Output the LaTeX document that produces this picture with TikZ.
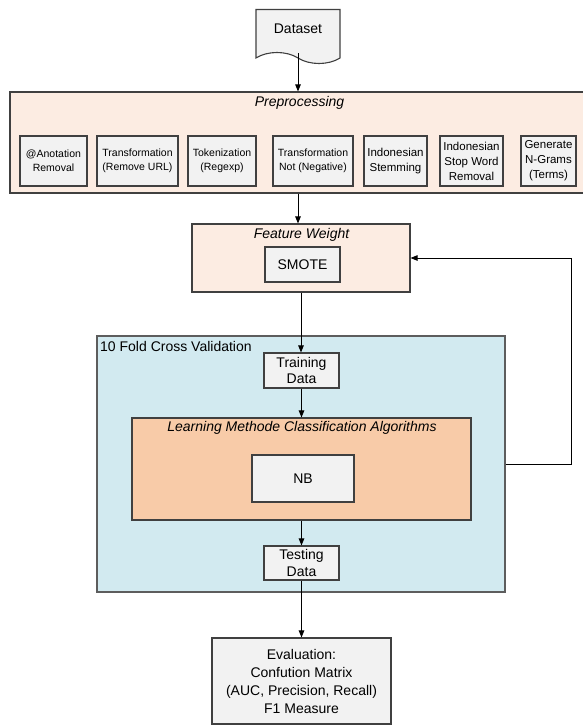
\documentclass[tikz,border=0pt]{standalone}
\usepackage{fontspec}
\setmainfont{Liberation Sans}
\usepackage{xcolor}
\definecolor{Col1}{RGB}{252,236,226}
\definecolor{Col2}{RGB}{210,234,240}
\definecolor{Col3}{RGB}{248,203,168}
\definecolor{Col4}{RGB}{242,242,242}
\definecolor{Col5}{RGB}{64,64,64}
\usepackage{tikz}
\usetikzlibrary{shapes.symbols}
\usetikzlibrary{arrows.meta}
\tikzstyle{Box}=[rectangle,draw=Col5,fill=Col4,line width=1.1pt,
inner sep=0pt,align=center]
\tikzstyle{Step}=[Box,font=\fontsize{10.5}{14}\selectfont,minimum height=50pt]
\tikzstyle{StepL}=[Box,font=\fontsize{11.5}{15}\selectfont,minimum height=50pt]
\tikzstyle{Data}=[Box,font=\fontsize{14}{16.5}\selectfont]
\tikzstyle{Group}=[rectangle,draw=Col5,line width=1.1pt,inner sep=0pt]
\tikzstyle{Title}=[font=\fontsize{14}{16}\selectfont\itshape,inner sep=0pt]
\tikzstyle{Edge}=[draw=black,line width=0.9pt,-{Triangle[length=7pt,width=5.5pt]}]

\begin{document}
\begin{tikzpicture}[x=1pt,y=-1pt]
        \useasboundingbox(0,0)rectangle(582,725);
        \node[Data,tape,tape bend top=none,tape bend bottom=out and in,
            tape bend height=11pt,minimum width=84pt,minimum height=54pt]
            (data)at(298,31){\raisebox{4pt}{Dataset}};
        % preprocessing
        \node[Group,fill=Col1,minimum width=576pt,minimum height=101pt]
            (prep)at(298,142.5){};
        \node[Title](preptitle)at(299.5,103){Preprocessing};
        \node[Step,minimum width=67pt](p1)at(53.5,161){@Anotation\\Removal};
        \node[Step,minimum width=81pt](p2)at(137.5,161)
            {Transformation\\(Remove URL)};
        \node[Step,minimum width=68pt](p3)at(222,161){Tokenization\\(Regexp)};
        \node[Step,minimum width=80pt](p4)at(313,161)
            {Transformation\\Not (Negative)};
        \node[StepL,minimum width=63pt](p5)at(395.5,161){Indonesian\\Stemming};
        \node[StepL,minimum width=63pt](p6)at(471.5,161)
            {Indonesian\\Stop Word\\Removal};
        \node[StepL,minimum width=55pt](p7)at(548.5,161)
            {Generate\\N-Grams\\(Terms)};
        % feature weight
        \node[Group,fill=Col1,minimum width=218pt,minimum height=68pt]
            (fw)at(301,258){};
        \node[Title](fwtitle)at(301.5,235){Feature Weight};
        \node[Data,minimum width=75pt,minimum height=35pt](smote)
            at(302.5,264.5){SMOTE};
        % cross validation
        \node[Group,fill=Col2,draw=Col5!85,minimum width=408pt,
            minimum height=256pt](cv)at(301,464){};
        \node[font=\fontsize{14}{16}\selectfont,inner sep=0pt,anchor=west]
            (cvtitle)at(100,346){10 Fold Cross Validation};
        \node[Data,minimum width=75pt,minimum height=35pt](train)
            at(301.5,370.5){Training\\Data};
        \node[Group,fill=Col3,minimum width=339pt,minimum height=102pt]
            (learn)at(301.5,469){};
        \node[Title](learntitle)at(302,428)
            {Learning Methode Classification Algorithms};
        \node[Data,minimum width=102pt,minimum height=47pt](nb)
            at(303,478.5){NB};
        \node[Data,minimum width=75pt,minimum height=34pt](test)
            at(301.5,563){Testing\\Data};
        % evaluation
        \node[Data,font=\fontsize{14}{18}\selectfont,minimum width=179pt,
            minimum height=86pt](eval)at(301.5,681)
            {Evaluation:\\Confution Matrix\\(AUC, Precision, Recall)\\F1 Measure};
        \draw[Edge](data.south)--(data.south|-prep.north);
        \draw[Edge](prep.south-|data.south)--(fw.north-|data.south);
        \draw[Edge](fw.south)--(fw.south|-train.north);
        \draw[Edge](train.south)--(train.south|-learn.north);
        \draw[Edge](learn.south-|test.north)--(test.north);
        \draw[Edge](test.south)--(test.south|-eval.north);
        \draw[Edge](cv.east)--++(66,0)|-(fw.east);
    \end{tikzpicture}
\end{document}
